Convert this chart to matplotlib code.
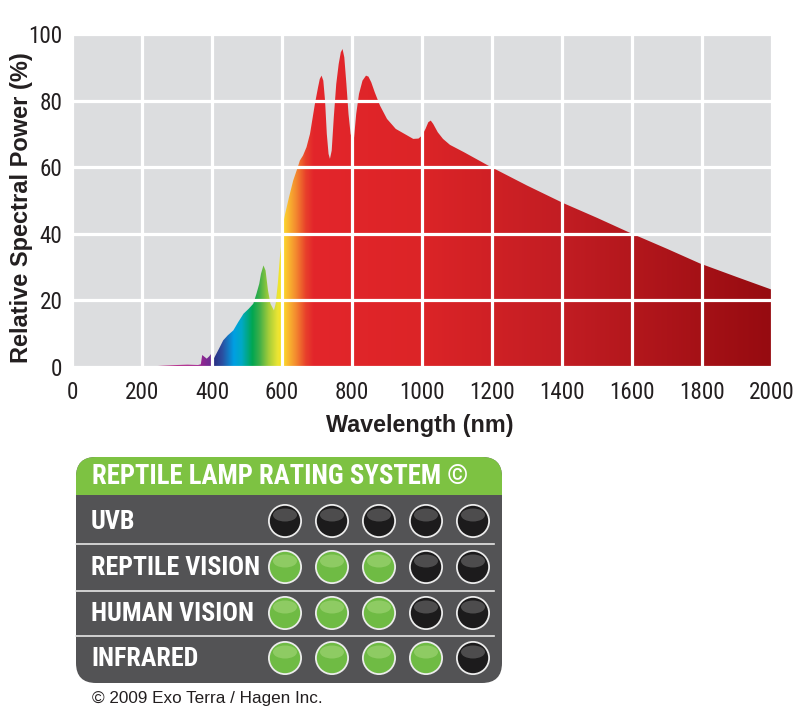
import os
import numpy as np
import matplotlib
matplotlib.use("Agg")
import matplotlib.pyplot as plt
from matplotlib import font_manager
from matplotlib.font_manager import FontProperties
from matplotlib.colors import to_rgb
from matplotlib.patches import Polygon, FancyBboxPatch, Rectangle, Circle, Ellipse

# spectrum of the lamp
wavelength = [230, 260, 300, 330, 360, 368, 372, 385, 392, 398, 400, 405, 410, 420, 432, 445,
              461, 475, 490, 505, 518, 527, 535, 540, 547, 553, 560, 567, 572, 577, 582, 588,
              594, 598, 603, 609, 620, 632, 645, 651, 660, 670, 680, 694, 703, 708, 713, 718,
              723, 728, 733, 737, 742, 748, 755, 762, 768, 773, 778, 784, 790, 796, 802, 806,
              812, 820, 830, 840, 847, 855, 865, 880, 900, 925, 950, 975, 990, 1000, 1010, 1018,
              1025, 1032, 1045, 1060, 1080, 1120, 1189, 1300, 1404, 1500, 1594, 1700, 1794, 1900, 2000]
power = [0.2, 0.4, 0.6, 0.7, 0.6, 0.8, 3.6, 2.5, 3.2, 4.0, 1.5, 2.5, 3.5, 5.5, 8.0, 9.5,
         11.0, 13.5, 16.0, 17.5, 19.0, 22.0, 25.0, 28.0, 30.5, 29.0, 23.0, 19.0, 18.0, 17.0, 19.0, 25.0,
         33.0, 37.0, 43.0, 46.0, 51.0, 56.0, 60.0, 62.0, 63.5, 66.0, 70.0, 79.0, 84.0, 86.5, 87.5, 86.0,
         80.0, 70.0, 64.0, 62.5, 65.0, 75.0, 85.0, 91.0, 94.5, 95.5, 93.0, 85.0, 76.0, 70.0, 68.0, 69.0,
         76.0, 82.0, 86.0, 87.5, 87.2, 85.5, 82.5, 78.5, 74.5, 71.5, 70.0, 68.5, 68.6, 69.5, 71.5, 73.5,
         74.0, 73.0, 70.5, 68.5, 66.7, 64.5, 60.5, 54.5, 49.2, 44.8, 40.3, 35.5, 31.1, 27.0, 23.2]

# colour of the fill along the wavelength axis
stop_nm = [230, 360, 385, 398, 405, 430, 462, 485, 515, 535, 562, 588, 600, 612, 640, 668, 690, 1000, 1400, 2000]
stop_col = ['#c4207e', '#a4238e', '#7b2a93', '#6a2d91', '#2b2e83', '#2a50a2', '#009fe3', '#00a9c4',
            '#00a651', '#3cae49', '#a5cd39', '#ece534', '#f8e21c', '#fbc630', '#f3892f', '#e8402b',
            '#e3262b', '#dc2427', '#c21d23', '#960b10']

xticks = list(range(0, 2001, 200))
yticks = list(range(0, 101, 20))

# rating table
rating_title = 'REPTILE LAMP RATING SYSTEM ©'
rating_rows = ['UVB', 'REPTILE VISION', 'HUMAN VISION', 'INFRARED']
rating_on = [[0, 0, 0, 0, 0],
             [1, 1, 1, 0, 0],
             [1, 1, 1, 0, 0],
             [1, 1, 1, 1, 0]]
credit = '© 2009 Exo Terra / Hagen Inc.'


def find_narrow(bold):
    # look for any condensed / narrow sans face that is installed
    order = ['liberation', 'roboto', 'noto sans', 'open sans', 'dejavu sans', 'lato', 'inter']
    best = None
    for f in font_manager.fontManager.ttflist:
        tag = (f.name + ' ' + os.path.basename(f.fname)).lower()
        if any(b in tag for b in ('mono', 'serif', 'cjk', 'italic', 'oblique')):
            continue
        if f.style != 'normal':
            continue
        squeezed = ('narrow' in tag or 'condensed' in tag or
                    f.stretch in ('condensed', 'semi-condensed', 'extra-condensed'))
        if not squeezed or 'extra' in tag or 'ultra' in tag or 'semi' in tag:
            continue
        w = f.weight if isinstance(f.weight, int) else font_manager.weight_dict.get(f.weight, 400)
        if bold != (w >= 600) or (bold and w > 750) or (not bold and w < 350):
            continue
        rank = next((k for k, o in enumerate(order) if o in tag), len(order))
        if best is None or rank < best[0]:
            best = (rank, f.fname)
    if best:
        return FontProperties(fname=best[1])
    return FontProperties(family='DejaVu Sans', weight='bold' if bold else 'normal')


def fit_width(texts, target, ref_text):
    # scale a group of texts so that ref_text spans target pixels
    fig.canvas.draw()
    w = ref_text.get_window_extent().width
    size = ref_text.get_fontsize() * target / w
    for t in texts:
        t.set_fontsize(size)


narrow_b = find_narrow(True)
narrow_r = find_narrow(False)
plain = 'Liberation Sans'
dark = '#231f20'

fig = plt.figure(figsize=(8, 7.16), dpi=100)
ax = fig.add_axes([72 / 800, 1 - 367 / 716, 700 / 800, 333 / 716])
ax.set_facecolor('#dcdddf')
ax.set_xlim(0, 2000)
ax.set_ylim(0, 100)

# gradient clipped by the spectrum outline
xs = np.linspace(0, 2000, 2001)
rgb = np.array([to_rgb(c) for c in stop_col])
grad = np.stack([np.interp(xs, stop_nm, rgb[:, k]) for k in range(3)], axis=-1)[None, :, :]
im = ax.imshow(grad, extent=[0, 2000, 0, 100], aspect='auto', origin='lower',
               interpolation='bilinear', zorder=1)
outline = Polygon(list(zip(wavelength, power)) + [(wavelength[-1], 0), (wavelength[0], 0)],
                  closed=True, facecolor='none', edgecolor='none')
ax.add_patch(outline)
im.set_clip_path(outline)

ax.set_xticks(xticks)
ax.set_yticks(yticks)
ax.set_axisbelow(False)
ax.grid(True, color='white', linewidth=2.3)
for s in ax.spines.values():
    s.set_visible(False)
ax.tick_params(length=0, labelsize=17, labelcolor=dark)
ax.tick_params(axis='x', pad=10)
ax.tick_params(axis='y', pad=7)
ax.set_xlabel('Wavelength (nm)', fontsize=16.8, fontweight='bold', color=dark, family=plain)
ax.xaxis.set_label_coords(0.497, -0.14)
ax.set_ylabel('Relative Spectral Power (%)', fontsize=17, fontweight='bold', color=dark, family=plain)
ax.yaxis.set_label_coords(-0.056, 0.48)

# table drawn in pixel coordinates
tb = fig.add_axes([0, 0, 1, 1])
tb.set_xlim(0, 800)
tb.set_ylim(716, 0)
tb.axis('off')
tb.patch.set_visible(False)

bx0, bx1, by0, by1 = 76, 502, 457, 683
box = FancyBboxPatch((bx0, by0), bx1 - bx0, by1 - by0, boxstyle='round,pad=0,rounding_size=20',
                     facecolor='#535355', edgecolor='none')
tb.add_patch(box)
head = Rectangle((bx0, by0), bx1 - bx0, 38, facecolor='#7dc242', edgecolor='none')
tb.add_patch(head)
head.set_clip_path(box)
title = tb.text(92, 477, rating_title, color='white', fontsize=18.5,
                fontproperties=narrow_b, va='center', ha='left')

row_y = [521, 567, 613, 658]
col_x = [285, 332, 379, 426, 473]
for y in [544, 590.5, 635.5]:
    tb.plot([bx0, 494], [y, y], color='#e6e6e6', lw=1.2)

row_texts = []
for i, name in enumerate(rating_rows):
    row_texts.append(tb.text(91, row_y[i] + 1, name, color='white', fontsize=18.5,
                             fontproperties=narrow_b, va='center', ha='left'))
    for j, on in enumerate(rating_on[i]):
        cx, cy = col_x[j], row_y[i]
        tb.add_patch(Circle((cx, cy), 17, facecolor='#ececec', edgecolor='none'))
        if on:
            tb.add_patch(Circle((cx, cy), 15.2, facecolor='#6fbb44', edgecolor='none'))
            tb.add_patch(Ellipse((cx, cy - 6), 24, 13, facecolor='#a9d97e', edgecolor='none', alpha=0.55))
        else:
            tb.add_patch(Circle((cx, cy), 15.2, facecolor='#1c1b1c', edgecolor='none'))
            tb.add_patch(Ellipse((cx, cy - 6), 24, 13, facecolor='#8a8a8a', edgecolor='none', alpha=0.45))

tb.text(92, 698, credit, color=dark, fontsize=12.3, family=plain, va='center', ha='left')

# condensed tick labels, sized like the reference
ticklabs = ax.get_xticklabels() + ax.get_yticklabels()
for lab in ticklabs:
    lab.set_fontproperties(narrow_r)
    lab.set_fontsize(17)
    lab.set_color(dark)

fit_width([title], 378, title)
fit_width(row_texts, 170, row_texts[1])
probe = ax.get_xticklabels()[5]
fit_width(ticklabs, 46, probe)

fig.savefig('out.png', dpi=100)
